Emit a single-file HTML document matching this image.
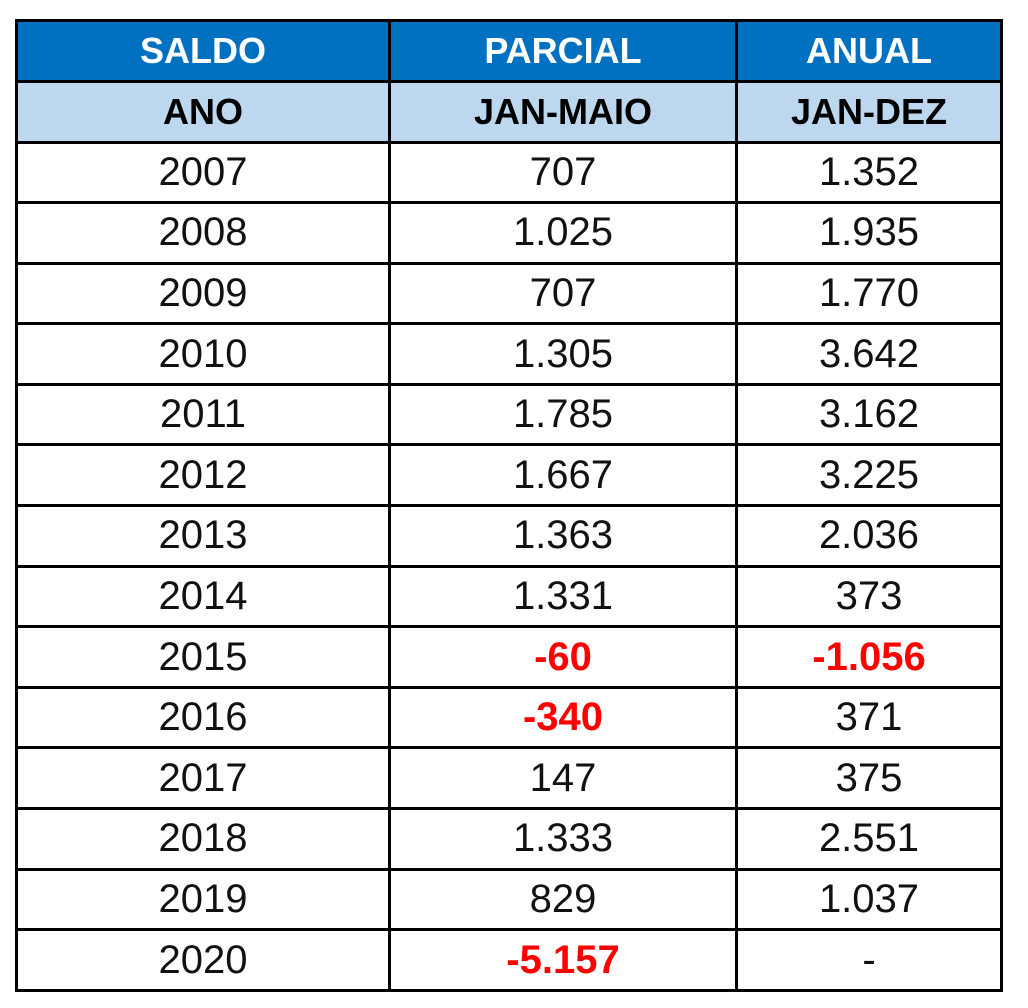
<!DOCTYPE html>
<html><head><meta charset="utf-8"><style>
body{margin:0;background:#fff;width:1028px;height:1008px;overflow:hidden;font-family:"Liberation Sans",sans-serif;}
table{position:absolute;left:15px;top:19px;border-collapse:collapse;table-layout:fixed;}
td{border:3px solid #000;text-align:center;padding:0;font-size:40px;color:#111;height:57.6px;}
tr.h1 td{background:#0070c0;color:#fff;font-weight:bold;font-size:36px;height:58px;}
tr.h2 td{background:#bdd7ee;color:#000;font-weight:bold;font-size:36px;height:57.5px;}
.r{color:#ff0000;font-weight:bold;}
</style></head><body>
<table>
<colgroup><col style="width:373px"><col style="width:347px"><col style="width:265px"></colgroup>
<tr class="h1"><td>SALDO</td><td>PARCIAL</td><td>ANUAL</td></tr>
<tr class="h2"><td>ANO</td><td>JAN-MAIO</td><td>JAN-DEZ</td></tr>
<tr><td>2007</td><td>707</td><td>1.352</td></tr>
<tr><td>2008</td><td>1.025</td><td>1.935</td></tr>
<tr><td>2009</td><td>707</td><td>1.770</td></tr>
<tr><td>2010</td><td>1.305</td><td>3.642</td></tr>
<tr><td>2011</td><td>1.785</td><td>3.162</td></tr>
<tr><td>2012</td><td>1.667</td><td>3.225</td></tr>
<tr><td>2013</td><td>1.363</td><td>2.036</td></tr>
<tr><td>2014</td><td>1.331</td><td>373</td></tr>
<tr><td>2015</td><td class="r">-60</td><td class="r">-1.056</td></tr>
<tr><td>2016</td><td class="r">-340</td><td>371</td></tr>
<tr><td>2017</td><td>147</td><td>375</td></tr>
<tr><td>2018</td><td>1.333</td><td>2.551</td></tr>
<tr><td>2019</td><td>829</td><td>1.037</td></tr>
<tr><td>2020</td><td class="r">-5.157</td><td>-</td></tr>
</table>
</body></html>
